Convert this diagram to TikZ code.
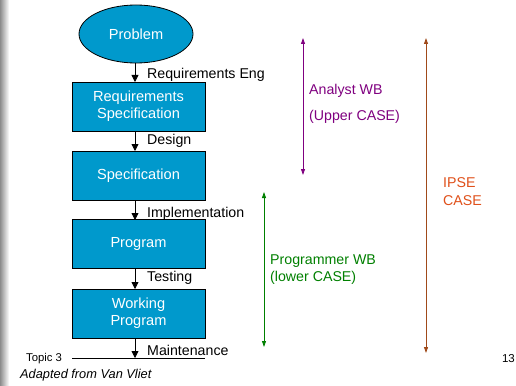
\documentclass[tikz,border=0pt]{standalone}
\usepackage{fontspec}
\setmainfont{Liberation Sans}
\usetikzlibrary{shapes.geometric,arrows.meta}
\definecolor{boxblue}{HTML}{0099CC}
\definecolor{apurple}{HTML}{800080}
\definecolor{pgreen}{HTML}{008000}
\definecolor{ibrown}{HTML}{A04A1A}
\definecolor{iorange}{HTML}{E0501A}
\begin{document}
\begin{tikzpicture}[x=1pt,y=-1pt,
  every node/.style={font=\fontsize{14.2}{16}\selectfont},
  stepbox/.style={draw=black,line width=0.8pt,fill=boxblue,minimum width=133pt,minimum height=49pt,text=white,align=center,inner sep=0pt,font=\fontsize{14.6}{17}\selectfont},
  flow/.style={draw=black,line width=0.8pt,-{Triangle[length=7pt,width=7pt]}},
  lbl/.style={anchor=west,inner sep=0pt,text=black},
  span/.style={line width=0.8pt,{Triangle[length=6pt,width=4pt]}-{Triangle[length=6pt,width=4pt]}}]
\useasboundingbox (0,0) rectangle (516,385);
\fill[white] (0,0) rectangle (516,385);
\shade[left color=black!45,right color=white] (0,0) rectangle (9,385);
% flow
\node[ellipse,draw=black,line width=0.8pt,fill=boxblue,text=white,minimum width=114pt,minimum height=58pt,inner sep=0pt,font=\fontsize{14.6}{17}\selectfont] (prob) at (136,34) {Problem};
\node[stepbox] (rs) at (138.5,106.5) {Requirements\\Specification};
\node[stepbox] (sp) at (138.5,175.5) {Specification};
\node[stepbox] (pg) at (138.5,244) {Program};
\node[stepbox] (wp) at (138.5,313.5) {Working\\Program};
\coordinate (ml) at (72,358);
\coordinate (mr) at (205,358);
\coordinate (mend) at (135,358);
\draw[line width=0.8pt] (ml) -- (mr);
\draw[flow] (135,63) -- (135,82);
\draw[flow] (135,131) -- (135,151);
\draw[flow] (135,200) -- (135,220);
\draw[flow] (135,268) -- (135,289);
\draw[flow] (135,338) -- (mend);
\node[lbl] (l1) at (147,75) {Requirements Eng};
\node[lbl] (l2) at (147,141) {Design};
\node[lbl] (l3) at (147,214) {Implementation};
\node[lbl] (l4) at (147,278) {Testing};
\node[lbl] (l5) at (147,350.5) {Maintenance};
% footer
\node[anchor=west,inner sep=0pt,font=\fontsize{11.3}{13}\selectfont] (topic) at (26,359) {Topic 3};
\node[anchor=west,inner sep=0pt,font=\fontsize{12.8}{15}\itshape] (adapt) at (20,375) {Adapted from Van Vliet};
\node[anchor=east,inner sep=0pt,font=\fontsize{11.5}{13}\selectfont] (pnum) at (515,359) {13};
% spans
\coordinate (at) at (303,38);
\coordinate (ab) at (303,175);
\draw[span,apurple] (at) -- (ab);
\node[lbl,text=apurple] (an1) at (309,91) {Analyst WB};
\node[lbl,text=apurple] (an2) at (309,117) {(Upper CASE)};
\coordinate (gt) at (264,192);
\coordinate (gb) at (264,347);
\draw[span,pgreen] (gt) -- (gb);
\node[lbl,text=pgreen] (pw1) at (270,261) {Programmer WB};
\node[lbl,text=pgreen] (pw2) at (270,278) {(lower CASE)};
\coordinate (it) at (426,38);
\coordinate (ib) at (426,353);
\draw[span,ibrown] (it) -- (ib);
\node[lbl,text=iorange] (ip1) at (443,183) {IPSE};
\node[lbl,text=iorange] (ip2) at (443,201) {CASE};
\end{tikzpicture}
\end{document}
